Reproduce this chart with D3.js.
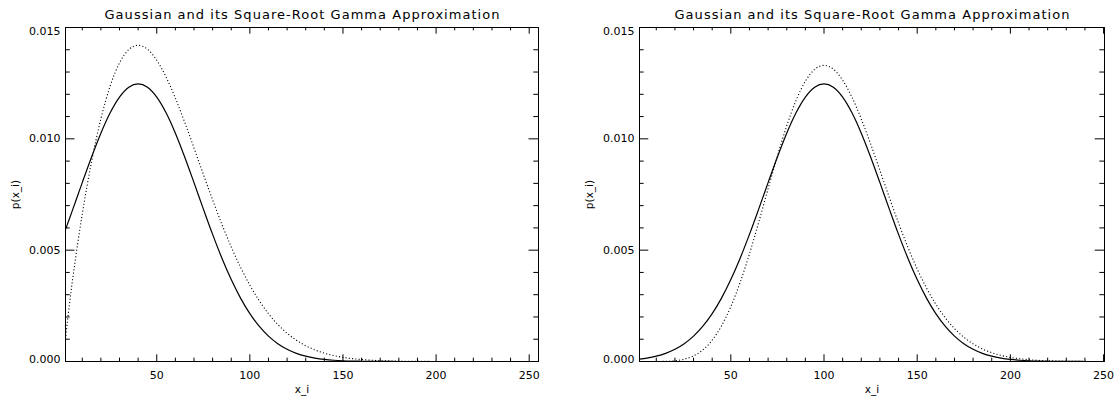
<!DOCTYPE html>
<html>
<head>
<meta charset="utf-8">
<script src="https://cdn.jsdelivr.net/npm/d3@7"></script>
<style>
	body { margin: 0; background: #fff; }
	svg { display: block; }
	text { font-family: "DejaVu Sans", sans-serif; fill: #000; }
</style>
</head>
<body>
<svg id="chart" width="1115" height="396"></svg>
<script>
'use strict';

// sample positions (x_i) and values
const leftX = [1, 2, 3, 5, 7.5, 10, 15, 20, 25, 30, 35, 40, 45, 50, 55, 60, 65, 70, 75, 80,
	85, 90, 95, 100, 105, 110, 115, 120, 125, 130, 135, 140, 145, 150, 155, 160, 165, 170, 175, 180,
	185, 190, 195, 200, 205, 210, 215, 220, 225, 230, 235, 240, 245, 250, 255];

const leftGaussian = [0.005932, 0.006160, 0.006389, 0.006855, 0.007444, 0.008034, 0.009188, 0.010255, 0.011170, 0.011873,
	0.012316, 0.012467, 0.012316, 0.011873, 0.011170, 0.010255, 0.009188, 0.008034, 0.006855, 0.005708,
	0.004638, 0.003678, 0.002846, 0.002149, 0.001584, 0.001139, 0.000800, 0.000548, 0.000366, 0.000239,
	0.000152, 0.000094, 0.000057, 0.000034, 0.000020, 0.000011, 0.000006, 0.000003, 0.000002, 0.000001,
	0, 0, 0, 0, 0, 0, 0, 0, 0, 0, 0, 0, 0, 0, 0];

const leftSqrtGamma = [0.001000, 0.001778, 0.002489, 0.003791, 0.005269, 0.006618, 0.008978, 0.010898, 0.012375, 0.013409,
	0.014008, 0.014200, 0.014024, 0.013530, 0.012778, 0.011829, 0.010748, 0.009591, 0.008413, 0.007257,
	0.006158, 0.005145, 0.004231, 0.003427, 0.002734, 0.002149, 0.001664, 0.001270, 0.000956, 0.000709,
	0.000518, 0.000374, 0.000266, 0.000186, 0.000129, 0.000088, 0.000059, 0.000039, 0.000026, 0.000017,
	0.000011, 0.000007, 0.000004, 0.000002, 0, 0, 0, 0, 0, 0, 0, 0, 0, 0, 0];

const rightX = [1, 5, 10, 15, 20, 25, 30, 35, 40, 45, 50, 55, 60, 65, 70, 75, 80, 85, 90, 95,
	100, 105, 110, 115, 120, 125, 130, 135, 140, 145, 150, 155, 160, 165, 170, 175, 180, 185, 190, 195,
	200, 205, 210, 215, 220, 225, 230, 235, 240, 245, 250];

const rightGaussian = [0.000104, 0.000152, 0.000239, 0.000366, 0.000548, 0.000800, 0.001139, 0.001584, 0.002149, 0.002846,
	0.003678, 0.004638, 0.005708, 0.006855, 0.008034, 0.009188, 0.010255, 0.011170, 0.011873, 0.012316,
	0.012467, 0.012316, 0.011873, 0.011170, 0.010255, 0.009188, 0.008034, 0.006855, 0.005708, 0.004638,
	0.003678, 0.002846, 0.002149, 0.001584, 0.001139, 0.000800, 0.000548, 0.000366, 0.000239, 0.000152,
	0.000094, 0.000057, 0.000034, 0.000020, 0.000011, 0.000006, 0.000003, 0.000002, 0.000001, 0, 0];

const rightSqrtGamma = [0, 0, 0.000001, 0.000008, 0.000033, 0.000103, 0.000251, 0.000521, 0.000958, 0.001599,
	0.002463, 0.003552, 0.004837, 0.006265, 0.007760, 0.009230, 0.010582, 0.011726, 0.012589, 0.013122,
	0.013300, 0.013128, 0.012634, 0.011868, 0.010892, 0.009774, 0.008583, 0.007379, 0.006216, 0.005132,
	0.004155, 0.003300, 0.002572, 0.001968, 0.001479, 0.001092, 0.000792, 0.000565, 0.000396, 0.000273,
	0.000185, 0.000123, 0.000081, 0.000052, 0.000033, 0.000020, 0.000012, 0.000007, 0.000004, 0.000002, 0.000001];

const xMajorTicks = [50, 100, 150, 200, 250];
const yMajorTicks = [0, 0.005, 0.010, 0.015];
const yDomain = [0, 0.015];
const titleText = 'Gaussian and its Square-Root Gamma Approximation';
const xLabel = 'x_i';
const yLabel = 'p(x_i)';

window.app = window.app || {};

window.app.gammaPlot = (function() {

	var svg = d3.select('#chart'),
		plotTop = 27,
		plotBottom = 361,
		panels = [
			{xs: leftX, solid: leftGaussian, dotted: leftSqrtGamma, xDomain: [1, 255], left: 65, right: 538},
			{xs: rightX, solid: rightGaussian, dotted: rightSqrtGamma, xDomain: [1, 250.5], left: 639, right: 1104}
		];


	/**
	* add an axis and give it the idl look (inward ticks, thin lines)
	* @returns {selection}
	*/
	const addAxis = function(axis, transform, fontSize) {
		let g = svg.append('g')
			.attr('transform', transform)
			.call(axis);

		g.attr('font-family', '"DejaVu Sans", sans-serif')
			.attr('font-size', fontSize || 11);
		g.selectAll('path, line').attr('stroke', '#000').attr('stroke-width', 1);

		return g;
	};


	/**
	* draw one panel: curves, frame, ticks and labels
	* @returns {undefined}
	*/
	const drawPanel = function(p) {
		let x = d3.scaleLinear().domain(p.xDomain).range([p.left, p.right]),
			y = d3.scaleLinear().domain(yDomain).range([plotBottom, plotTop]),
			xTickLen = 0.02 * (plotBottom - plotTop),
			yTickLen = 0.02 * (p.right - p.left),
			minorX = d3.range(10, 260, 10).filter(function(v) {
				return v % 50 !== 0 && v <= p.xDomain[1];
			}),
			minorY = d3.range(1, 15).filter(function(v) {
				return v % 5 !== 0;
			}).map(function(v) { return v / 1000; });

		// curves
		let line = d3.line()
			.x(function(d, i) { return x(p.xs[i]) + 0.5; })
			.y(function(d) { return y(d) + 0.5; })
			.curve(d3.curveMonotoneX);

		svg.append('path')
			.datum(p.solid)
			.attr('d', line)
			.attr('fill', 'none')
			.attr('stroke', '#000')
			.attr('stroke-width', 1.2);

		svg.append('path')
			.datum(p.dotted)
			.attr('d', line)
			.attr('fill', 'none')
			.attr('stroke', '#000')
			.attr('stroke-width', 1.1)
			.attr('stroke-dasharray', '1.1 2.2');

		// bottom + top
		addAxis(d3.axisBottom(x).tickValues(xMajorTicks).tickFormat(d3.format('d'))
			.tickSizeInner(-xTickLen).tickSizeOuter(0).tickPadding(10), 'translate(0,' + plotBottom + ')');
		addAxis(d3.axisBottom(x).tickValues(minorX).tickFormat('')
			.tickSizeInner(-xTickLen / 2).tickSizeOuter(0), 'translate(0,' + plotBottom + ')');
		addAxis(d3.axisTop(x).tickValues(xMajorTicks).tickFormat('')
			.tickSizeInner(-xTickLen).tickSizeOuter(0), 'translate(0,' + plotTop + ')');
		addAxis(d3.axisTop(x).tickValues(minorX).tickFormat('')
			.tickSizeInner(-xTickLen / 2).tickSizeOuter(0), 'translate(0,' + plotTop + ')');

		// left + right
		let yAxis = addAxis(d3.axisLeft(y).tickValues(yMajorTicks).tickFormat(d3.format('.3f'))
			.tickSizeInner(-yTickLen).tickSizeOuter(0).tickPadding(4.5), 'translate(' + p.left + ',0)');
		addAxis(d3.axisLeft(y).tickValues(minorY).tickFormat('')
			.tickSizeInner(-yTickLen / 2).tickSizeOuter(0), 'translate(' + p.left + ',0)');
		addAxis(d3.axisRight(y).tickValues(yMajorTicks).tickFormat('')
			.tickSizeInner(-yTickLen).tickSizeOuter(0), 'translate(' + p.right + ',0)');
		addAxis(d3.axisRight(y).tickValues(minorY).tickFormat('')
			.tickSizeInner(-yTickLen / 2).tickSizeOuter(0), 'translate(' + p.right + ',0)');

		// idl keeps the end labels inside the frame
		yAxis.selectAll('.tick text')
			.attr('y', function(d) {
				if (d === 0.015) return 3.5;
				if (d === 0) return -2.2;
				return 0;
			});

		let cx = (p.left + p.right) / 2 + 0.5;

		svg.append('text')
			.attr('x', cx)
			.attr('y', 19.3)
			.attr('text-anchor', 'middle')
			.attr('font-size', 13)
			.attr('textLength', 395)
			.attr('lengthAdjust', 'spacing')
			.text(titleText);

		svg.append('text')
			.attr('x', cx)
			.attr('y', 393)
			.attr('text-anchor', 'middle')
			.attr('font-size', 10.5)
			.text(xLabel);

		svg.append('text')
			.attr('transform', 'translate(' + (p.left - 46) + ',' + ((plotTop + plotBottom) / 2 + 0.5) + ') rotate(-90)')
			.attr('text-anchor', 'middle')
			.attr('font-size', 10.5)
			.text(yLabel);
	};


	panels.forEach(drawPanel);

	return {
		drawPanel
	};

})();
</script>
</body>
</html>
